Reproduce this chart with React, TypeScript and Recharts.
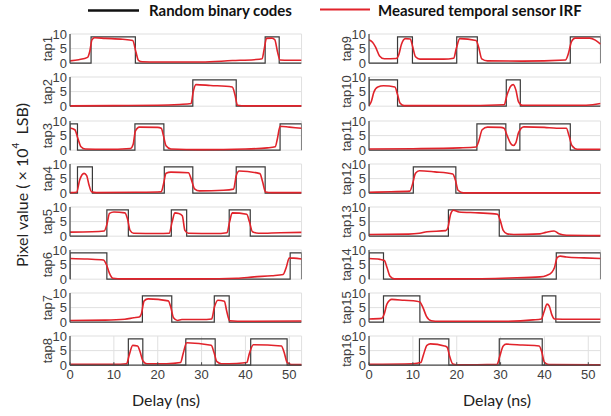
import { LineChart, Line, XAxis, YAxis, CartesianGrid } from "recharts";

const X_MAX = 52.8;
const HIGH = 9;
const xTicks = [0, 10, 20, 30, 40, 50];
const yTicks = [0, 5, 10];
const tapNames = [
  "tap1", "tap2", "tap3", "tap4", "tap5", "tap6", "tap7", "tap8",
  "tap9", "tap10", "tap11", "tap12", "tap13", "tap14", "tap15", "tap16",
];

// random binary codes: intervals (ns) where the code is high
const codes: number[][][] = [
  [[4.8, 14.9], [44.5, 47.7]],
  [[28.0, 37.9]],
  [[0, 1.7], [14.8, 21.4], [47.9, 52.8]],
  [[1.7, 5.1], [21.5, 28.0], [37.9, 44.5]],
  [[8.4, 13.3], [23.1, 26.6], [36.3, 41.1]],
  [[0, 8.4], [50.2, 52.8]],
  [[16.5, 23.2], [32.9, 36.3]],
  [[13.3, 16.6], [26.4, 33.1], [41.2, 49.5]],
  [[6.5, 9.9], [20.0, 24.7], [45.9, 52.8]],
  [[0, 6.5], [31.3, 34.5]],
  [[24.6, 31.2], [34.4, 45.9]],
  [[10.1, 19.8]],
  [[18.1, 29.7]],
  [[0, 3.3], [42.7, 52.8]],
  [[3.3, 11.6], [39.5, 42.6]],
  [[11.5, 18.2], [29.7, 39.5]],
];

// measured temporal sensor IRF: [delay ns, pixel value x1e4]
const irf1 = [[0,0.8],[2,1.2],[4,2],[4.5,4],[5,8],[5.6,8.7],[8,8.5],[12,8.2],[14.3,7.8],[15,4],[15.6,1],[16.5,0.5],[20,0.4],[30,0.4],[37,0.9],[42,1.2],[43.8,1.5],[44.3,5],[44.8,8.5],[46,8.6],[46.7,8],[47.3,4],[47.9,1.1],[50,1],[52.8,1]];
const irf2 = [[0,0.1],[10,0.2],[20,0.3],[25,0.6],[27.6,0.9],[28.1,5],[28.7,7.4],[32,7.1],[37,6.6],[37.6,4],[38.2,0.3],[40,0.1],[52.8,0.1]];
const irf3 = [[0,7.6],[1.1,7],[1.8,4],[2.5,1.2],[3.5,0.4],[8,0.3],[13.8,0.6],[14.4,2],[14.9,6.5],[15.8,7.9],[20,7.8],[20.8,7.5],[21.3,5],[21.9,1.5],[23,0.4],[30,0.2],[40,0.4],[45,0.8],[46.8,1.2],[47.3,4],[47.9,8.2],[50,7.9],[52.8,7.5]];
const irf4 = [[0,0.2],[1.5,0.3],[2.2,4.5],[3.2,6.8],[3.8,6],[4.3,3],[4.9,0.5],[6,0.2],[15,0.3],[20.8,0.5],[21.3,3],[21.9,6.8],[23,7.2],[27,7],[27.6,5],[28.4,1.5],[29.5,0.8],[35,1],[37.3,1.4],[37.9,6],[38.6,7.6],[43.3,6.7],[43.9,4],[44.6,0.4],[46,0.2],[52.8,0.2]];
const irf5 = [[0,1.4],[5,1.5],[7.8,1.8],[8.4,4],[9,7.8],[10,8.3],[12.5,8],[13.1,6],[13.7,2],[14.5,1],[20,0.9],[22.6,1],[23.3,5],[23.9,8],[24.8,7.8],[25.6,7],[26.2,2],[27,1],[33,0.9],[35.8,1.2],[36.4,5],[37,8],[40.3,7.5],[40.9,5],[41.6,1.5],[43,1],[48,1.2],[52.8,1.3]];
const irf6 = [[0,7.1],[4,6.9],[7.6,6.6],[8.3,5],[9,2],[9.8,0.3],[12,0.1],[30,0.1],[38,0.3],[42,0.8],[46,1.2],[48.6,1.6],[49.3,4],[50,7.2],[51,7.2],[52.8,6.9]];
const irf7 = [[0,0.6],[8,0.7],[12.5,1],[14.5,1.5],[15.8,1.8],[16.3,3],[16.9,7.3],[17.8,8],[22.4,7.3],[23,5],[23.6,1.5],[24.5,0.6],[25.5,0.9],[30,0.9],[32.3,1.1],[32.9,5],[33.7,7.5],[35.2,7.2],[35.7,4],[36.4,0.5],[40,0.3],[52.8,0.4]];
const irf8 = [[0,0.3],[10,0.3],[12.9,0.5],[13.5,3.5],[14.3,6.8],[15.4,6.6],[16,4.5],[16.6,1.5],[17.5,0.5],[22,0.5],[25.2,0.9],[25.8,4],[26.6,7.7],[32.2,6.8],[32.8,4.5],[33.5,1.2],[34.5,0.5],[38,0.6],[40.3,0.9],[40.9,4],[41.8,7],[48.2,6.6],[48.8,4.5],[49.5,1],[50.5,0.2],[52.8,0.2]];
const irf9 = [[0,8],[0.8,7.2],[1.5,5.5],[2.4,2.5],[3.5,1.5],[6.2,1.6],[6.8,3],[7.4,6.5],[8.3,8.4],[9.4,8.3],[9.9,6],[10.6,2.2],[11.6,1.4],[17,1.4],[19.3,1.7],[19.9,5],[20.7,8.4],[24.4,7.8],[25,5.5],[25.7,1.5],[27,0.8],[35,0.7],[44.8,1.1],[45.4,3],[46.2,7.5],[47,8.6],[50.3,8.6],[51.6,7.9],[52.8,6.5]];
const irf10 = [[0,0.2],[0.5,1.5],[1.1,4.8],[2,6.6],[3.3,7],[5.9,6.6],[6.5,4],[7.1,1],[8,0.2],[20,0.2],[30.8,0.5],[31.5,4],[32.3,6.8],[32.9,7.4],[33.5,5.5],[34.1,1.5],[35,0.3],[48,0.3],[51,0.5],[52.8,0.9]];
const irf11 = [[0,0.4],[10,0.5],[20.7,0.8],[24.4,1.1],[25,3],[25.8,7],[27,7.9],[30,7.8],[30.8,7.5],[31.5,5],[32.3,2.3],[32.9,1.6],[33.5,2.6],[34.1,6],[35.3,8],[40,7.8],[42.8,7.5],[45,7.5],[45.6,5],[46.3,1.5],[47.5,0.3],[52.8,0.3]];
const irf12 = [[0,0.3],[5,0.5],[9.3,0.7],[9.9,3],[10.6,6.8],[11.5,7.7],[15,7.3],[19.1,6.6],[19.7,4.5],[20.3,1],[21.5,0.1],[52.8,0.1]];
const irf13 = [[0,0.6],[9,0.7],[11.5,1],[13.2,1.5],[17.5,1.9],[18,3],[18.6,7.5],[19.2,8.9],[20.5,8.3],[25,8],[29.3,7.5],[29.9,5.5],[30.6,2],[31.5,0.8],[33,0.6],[39,0.8],[40.3,1.3],[42.2,1.8],[43.3,0.8],[45,0.3],[52.8,0.2]];
const irf14 = [[0,7.1],[2.5,6.8],[3.5,6.4],[4.1,4],[4.8,1],[5.8,0.1],[20,0.1],[32,0.4],[39,0.8],[40.5,1.3],[41.7,2.4],[42.3,4],[42.9,7.4],[43.6,7.9],[45,7.6],[49,7.3],[52.8,7.1]];
const irf15 = [[0,1.1],[2.9,1.3],[3.5,3],[4.1,6.3],[5.2,7.8],[8,7.5],[10.9,7.2],[11.6,6.9],[12.3,5],[13.1,2],[14.2,0.5],[16,0.3],[30,0.3],[37.4,0.8],[39.3,1.1],[39.9,3.5],[40.6,6.2],[41.1,5.5],[41.7,2.5],[42.3,1.1],[46,1],[52.8,1]];
const irf16 = [[0,0.3],[10,0.5],[11.8,0.9],[12.4,3.5],[13.2,6.8],[14,7.3],[17.2,6.6],[17.8,6.2],[18.4,3],[19.1,0.4],[20,0.1],[29.2,0.3],[29.8,3],[30.6,6.6],[31.3,7.2],[35,6.9],[38.8,6.6],[39.4,4.5],[40,1],[41,0.2],[52.8,0.1]];
const irfs = [irf1, irf2, irf3, irf4, irf5, irf6, irf7, irf8, irf9, irf10, irf11, irf12, irf13, irf14, irf15, irf16];

const COL_X = [70, 369];
const ROW_TOP = 34.3;
const ROW_STEP = 43.1;
const PW = 231.6;
const PH = 29.2;
const AXIS_W = 46;
const PAD = 9;
const BOX = "#4a4a4a";
const TICK_FONT = "'Liberation Sans', Arial, sans-serif";
const TITLE_FONT = "Lato, 'Open Sans', sans-serif";

function codePoints(iv: number[][]) {
  const pts = [{ x: 0, y: 0 }];
  iv.forEach(([s, e]) => {
    pts.push({ x: s, y: 0 }, { x: s, y: HIGH }, { x: e, y: HIGH }, { x: e, y: 0 });
  });
  pts.push({ x: X_MAX, y: 0 });
  return pts;
}

function Panel({ idx }: { idx: number }) {
  const col = idx < 8 ? 0 : 1;
  const row = idx % 8;
  const last = row === 7;
  const xh = last ? 22 : 0;
  const left = COL_X[col] - AXIS_W;
  const top = ROW_TOP + row * ROW_STEP - PAD;
  const code = codePoints(codes[idx]);
  const red = irfs[idx].map(([x, y]) => ({ x, y }));

  return (
    <div style={{ position: "absolute", left, top }}>
      <LineChart
        width={AXIS_W + PW + 6}
        height={PAD + PH + xh + PAD}
        margin={{ top: PAD, right: 6, bottom: PAD, left: 0 }}>
        <CartesianGrid stroke="#e0e0e0" />
        <XAxis
          dataKey="x"
          type="number"
          domain={[0, X_MAX]}
          ticks={xTicks}
          interval={0}
          allowDataOverflow
          height={xh}
          tickSize={-3}
          tickMargin={8}
          tick={last ? { fontSize: 13, fill: "#404040", fontFamily: TICK_FONT } : false}
          axisLine={{ stroke: BOX, strokeWidth: 1.2 }}
          tickLine={{ stroke: BOX }}
        />
        <XAxis
          xAxisId="top"
          orientation="top"
          dataKey="x"
          type="number"
          domain={[0, X_MAX]}
          ticks={xTicks}
          interval={0}
          allowDataOverflow
          height={0}
          tickSize={-3}
          tick={false}
          axisLine={{ stroke: BOX, strokeWidth: 1.2 }}
          tickLine={{ stroke: BOX }}
        />
        <YAxis
          type="number"
          domain={[0, 10]}
          ticks={yTicks}
          interval={0}
          width={AXIS_W}
          tickSize={0}
          tickMargin={3}
          tickLine={false}
          tick={{ fontSize: 13, fill: "#404040", fontFamily: TICK_FONT }}
          axisLine={{ stroke: BOX, strokeWidth: 1.2 }}
          label={{
            value: tapNames[idx],
            angle: -90,
            position: "center",
            fontSize: 13,
            fill: "#404040",
            fontFamily: TICK_FONT,
          }}
        />
        <YAxis
          yAxisId="r"
          orientation="right"
          type="number"
          domain={[0, 10]}
          width={0}
          tick={false}
          tickLine={false}
          axisLine={{ stroke: BOX, strokeWidth: 1.2 }}
        />
        <Line
          data={code}
          dataKey="y"
          type="linear"
          stroke="#3a3a3a"
          strokeWidth={1.2}
          dot={false}
          activeDot={false}
          isAnimationActive={false}
        />
        <Line
          data={red}
          dataKey="y"
          type="monotone"
          stroke="#e1232b"
          strokeWidth={1.6}
          dot={false}
          activeDot={false}
          isAnimationActive={false}
        />
      </LineChart>
    </div>
  );
}

export default function App() {
  return (
    <div style={{ position: "absolute", left: 0, top: 0, width: 611, height: 416, background: "#fff" }}>
      {tapNames.map((_, i) => (
        <Panel key={i} idx={i} />
      ))}
      <svg width={611} height={416} style={{ position: "absolute", left: 0, top: 0, pointerEvents: "none" }}>
        <line x1={88} x2={139} y1={10.5} y2={10.5} stroke="#111" strokeWidth={2.5} />
        <text x={149} y={15.5} fontFamily={TITLE_FONT} fontWeight="bold" fontSize={15} fill="#111">
          Random binary codes
        </text>
        <line x1={320} x2={370} y1={9.5} y2={9.5} stroke="#e1232b" strokeWidth={2} />
        <text x={378} y={15.5} fontFamily={TITLE_FONT} fontWeight="bold" fontSize={15} fill="#111">
          Measured temporal sensor IRF
        </text>
        <text
          x={21}
          y={185}
          transform="rotate(-90, 21, 185)"
          textAnchor="middle"
          dominantBaseline="central"
          fontFamily={TITLE_FONT}
          fontSize={16}
          fill="#222">
          Pixel value ( × 10<tspan dy={-6} fontSize={10}>4</tspan>
          <tspan dy={6}>{"\u00a0\u00a0"}LSB)</tspan>
        </text>
        <text x={166} y={406} textAnchor="middle" fontFamily={TITLE_FONT} fontSize={16} fill="#222">
          Delay (ns)
        </text>
        <text x={497} y={406} textAnchor="middle" fontFamily={TITLE_FONT} fontSize={16} fill="#222">
          Delay (ns)
        </text>
      </svg>
    </div>
  );
}
